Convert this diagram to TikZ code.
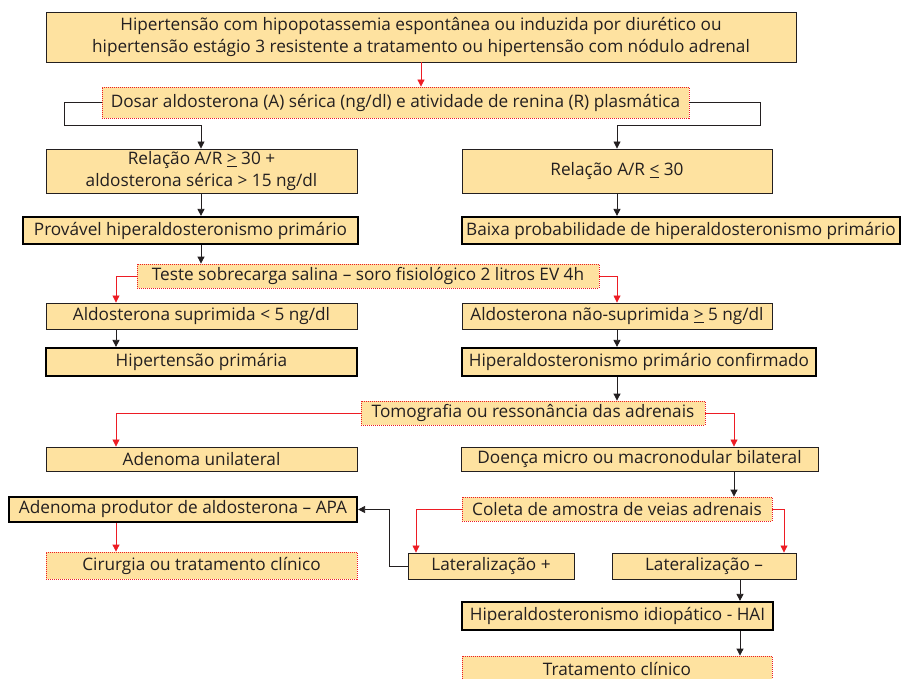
\documentclass[tikz,border=0pt]{standalone}
\usepackage{fontspec}
\setmainfont{Open Sans}
\usetikzlibrary{arrows.meta}
\definecolor{caixa}{RGB}{254,226,160}
\definecolor{vermelho}{RGB}{237,28,36}
\definecolor{texto}{RGB}{35,31,32}
\tikzset{
  base/.style={fill=caixa, text=texto, inner sep=0pt, align=center,
    font=\fontsize{17.2}{22}\selectfont},
  caixa/.style={base, draw=texto, line width=0.9pt},
  destaque/.style={base, draw=black, line width=2.2pt},
  exame/.style={base, draw=vermelho, dash pattern=on 1pt off 1pt, line width=0.8pt},
  seta/.style={-{Triangle[width=7pt,length=7pt]}, line width=0.8pt, draw=texto},
  setav/.style={-{Triangle[width=7pt,length=7pt]}, line width=0.8pt, draw=vermelho},
}
\begin{document}
\begin{tikzpicture}[x=1pt,y=-1pt]
  \useasboundingbox[fill=white] (0,0) rectangle (902,679);

  % Caixas
  \node[caixa, minimum width=750pt, minimum height=50pt] (hip) at (421,37)
    {Hipertensão com hipopotassemia espontânea ou induzida por diurético ou\\
     hipertensão estágio 3 resistente a tratamento ou hipertensão com nódulo adrenal};
  \node[exame, minimum width=587pt, minimum height=31pt] (dosar) at (395.5,102.5)
    {Dosar aldosterona (A) sérica (ng/dl) e atividade de renina (R) plasmática};
  \node[caixa, minimum width=311pt, minimum height=44pt] (relmaior) at (201.5,171)
    {Relação A/R \underline{>} 30 +\\ aldosterona sérica > 15 ng/dl};
  \node[caixa, minimum width=310pt, minimum height=44pt] (relmenor) at (617,171)
    {Relação A/R \underline{<} 30};
  \node[destaque, minimum width=335pt, minimum height=27pt] (provavel) at (190.5,230.5)
    {Provável hiperaldosteronismo primário};
  \node[destaque, minimum width=438pt, minimum height=27pt] (baixa) at (681,230.5)
    {Baixa probabilidade de hiperaldosteronismo primário};
  \node[exame, minimum width=462pt, minimum height=24pt] (teste) at (368,276)
    {Teste sobrecarga salina – soro fisiológico 2 litros EV 4h};
  \node[caixa, minimum width=311pt, minimum height=26pt] (suprimida) at (201.5,316)
    {Aldosterona suprimida < 5 ng/dl};
  \node[caixa, minimum width=310pt, minimum height=26pt] (naosuprimida) at (617,316)
    {Aldosterona não-suprimida \underline{>} 5 ng/dl};
  \node[destaque, minimum width=311pt, minimum height=28pt] (hprimaria) at (201.5,362)
    {Hipertensão primária};
  \node[destaque, minimum width=354pt, minimum height=28pt] (confirmado) at (639,362)
    {Hiperaldosteronismo primário confirmado};
  \node[exame, minimum width=344pt, minimum height=24pt] (tomo) at (533,413)
    {Tomografia ou ressonância das adrenais};
  \node[caixa, minimum width=311pt, minimum height=24pt] (unilateral) at (201.5,459)
    {Adenoma unilateral};
  \node[caixa, minimum width=357pt, minimum height=24pt] (bilateral) at (639.5,459)
    {Doença micro ou macronodular bilateral};
  \node[exame, minimum width=310pt, minimum height=24pt] (coleta) at (617,509)
    {Coleta de amostra de veias adrenais};
  \node[destaque, minimum width=348pt, minimum height=25pt] (apa) at (183,509.5)
    {Adenoma produtor de aldosterona – APA};
  \node[caixa, minimum width=166pt, minimum height=26pt] (latmais) at (491,566)
    {Lateralização +};
  \node[caixa, minimum width=184pt, minimum height=26pt] (latmenos) at (704,566)
    {Lateralização –};
  \node[exame, minimum width=311pt, minimum height=27pt] (cirurgia) at (201.5,565.5)
    {Cirurgia ou tratamento clínico};
  \node[destaque, minimum width=311pt, minimum height=28pt] (hai) at (617.5,616)
    {Hiperaldosteronismo idiopático - HAI};
  \node[exame, minimum width=310pt, minimum height=26pt] (tratamento) at (617,669)
    {Tratamento clínico};

  % Colunas das setas
  \coordinate (colA) at (116,0);
  \coordinate (colB) at (201,0);
  \coordinate (colC) at (734,0);
  \coordinate (colD) at (416,0);
  \coordinate (colE) at (784,0);
  \coordinate (colF) at (389,0);
  \coordinate (colG) at (740,0);
  \coordinate (voltaE) at (64,125);
  \coordinate (voltaD) at (760,125);

  % Setas
  \draw[setav] (hip.south) -- (hip.south |- dosar.north);
  \draw[seta] (dosar.west) -| (voltaE) -| (colB |- relmaior.north);
  \draw[seta] (dosar.east) -| (voltaD) -| (relmenor.north);
  \draw[seta] (colB |- relmaior.south) -- (colB |- provavel.north);
  \draw[seta] (relmenor.south) -- (relmenor.south |- baixa.north);
  \draw[seta] (colB |- provavel.south) -- (colB |- teste.north);
  \draw[setav] (teste.west) -| (colA |- suprimida.north);
  \draw[setav] (teste.east) -| (naosuprimida.north);
  \draw[seta] (colA |- suprimida.south) -- (colA |- hprimaria.north);
  \draw[seta] (naosuprimida.south) -- (naosuprimida.south |- confirmado.north);
  \draw[seta] (naosuprimida.south |- confirmado.south) -- (naosuprimida.south |- tomo.north);
  \draw[setav] (tomo.west) -| (colA |- unilateral.north);
  \draw[setav] (tomo.east) -| (colC |- bilateral.north);
  \draw[seta] (colC |- bilateral.south) -- (colC |- coleta.north);
  \draw[setav] (coleta.west) -| (colD |- latmais.north);
  \draw[setav] (coleta.east) -| (colE |- latmenos.north);
  \draw[seta] (latmais.west) -| (colF |- apa.east) -- (apa.east);
  \draw[setav] (colA |- apa.south) -- (colA |- cirurgia.north);
  \draw[seta] (colG |- latmenos.south) -- (colG |- hai.north);
  \draw[seta] (colG |- hai.south) -- (colG |- tratamento.north);
\end{tikzpicture}
\end{document}
